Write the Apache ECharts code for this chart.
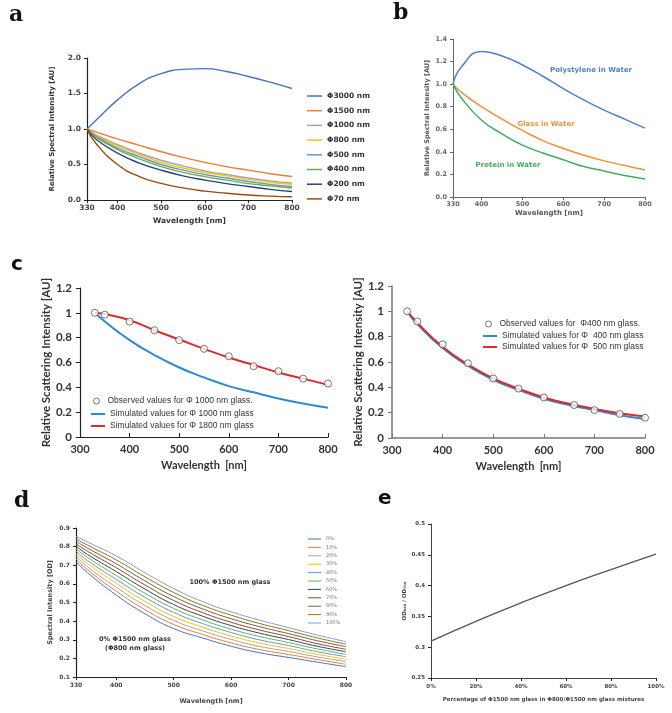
<!DOCTYPE html>
<html>
<head>
<meta charset="utf-8">
<script src="https://cdn.jsdelivr.net/npm/echarts@6/dist/echarts.min.js"></script>
<style>
  html, body { margin: 0; padding: 0; background: #fff; }
  #chart { width: 672px; height: 713px; }
</style>
</head>
<body>
<div id="chart"></div>
<script>
// panel a: relative spectral intensity by particle size
const waveA = [330, 350, 400, 450, 500, 550, 600, 650, 700, 750, 800];
const sizeNames = ['Φ3000 nm', 'Φ1500 nm', 'Φ1000 nm', 'Φ800 nm', 'Φ500 nm', 'Φ400 nm', 'Φ200 nm', 'Φ70 nm'];
const phi3000 = [1.0, 1.12, 1.41, 1.64, 1.78, 1.84, 1.85, 1.81, 1.74, 1.66, 1.57];
const phi1500 = [1.0, 0.96, 0.86, 0.77, 0.68, 0.60, 0.53, 0.47, 0.42, 0.37, 0.33];
const phi1000 = [1.0, 0.92, 0.78, 0.66, 0.56, 0.48, 0.41, 0.36, 0.31, 0.27, 0.24];
const phi800 = [1.0, 0.91, 0.76, 0.64, 0.53, 0.45, 0.39, 0.34, 0.29, 0.25, 0.22];
const phi500 = [1.0, 0.90, 0.73, 0.61, 0.50, 0.42, 0.36, 0.31, 0.26, 0.22, 0.19];
const phi400 = [1.0, 0.89, 0.71, 0.58, 0.47, 0.39, 0.33, 0.28, 0.23, 0.20, 0.17];
const phi200 = [1.0, 0.86, 0.66, 0.52, 0.42, 0.34, 0.28, 0.23, 0.19, 0.15, 0.12];
const phi70 = [1.0, 0.80, 0.50, 0.33, 0.235, 0.17, 0.125, 0.095, 0.07, 0.055, 0.045];
const sizeColors = ['#4472c4', '#ed7d31', '#a5a5a5', '#ffc000', '#5b9bd5', '#70ad47', '#264478', '#9e480e'];

// panel b: materials in water
const waveB = [330, 350, 400, 450, 500, 550, 600, 650, 700, 750, 800];
const polystylene = [1.0, 1.15, 1.29, 1.25, 1.17, 1.07, 0.96, 0.86, 0.77, 0.69, 0.61];
const glassWater = [1.0, 0.93, 0.80, 0.69, 0.59, 0.50, 0.43, 0.37, 0.32, 0.28, 0.24];
const proteinWater = [1.0, 0.88, 0.68, 0.56, 0.46, 0.39, 0.33, 0.27, 0.23, 0.19, 0.16];

// panel c: observed vs simulated scattering
const waveC = [330, 350, 400, 450, 500, 550, 600, 650, 700, 750, 800];
const obsWaveL = [330, 350, 400, 450, 500, 550, 600, 650, 700, 750, 800];
const obs1000 = [1.0, 0.985, 0.93, 0.86, 0.78, 0.71, 0.65, 0.57, 0.53, 0.47, 0.43];
const sim1000 = [1.0, 0.93, 0.78, 0.66, 0.56, 0.48, 0.41, 0.36, 0.31, 0.27, 0.235];
const sim1800 = [1.0, 0.99, 0.94, 0.86, 0.785, 0.71, 0.64, 0.58, 0.52, 0.47, 0.42];
const obsWaveR = [330, 350, 400, 450, 500, 550, 600, 660, 700, 750, 800];
const obs400 = [1.0, 0.92, 0.74, 0.59, 0.47, 0.39, 0.32, 0.26, 0.22, 0.19, 0.16];
const sim400 = [1.0, 0.90, 0.71, 0.57, 0.46, 0.38, 0.31, 0.26, 0.22, 0.18, 0.15];
const sim500 = [1.0, 0.91, 0.72, 0.58, 0.47, 0.39, 0.32, 0.27, 0.23, 0.195, 0.17];

// panel d: mixtures of 800/1500 nm glass
const waveD = [330, 350, 400, 450, 500, 550, 600, 650, 700, 750, 800];
const mixNames = ['0%', '10%', '20%', '30%', '40%', '50%', '60%', '70%', '80%', '90%', '100%'];
const mix0 = [0.720, 0.660, 0.540, 0.440, 0.360, 0.310, 0.265, 0.230, 0.205, 0.180, 0.155];
const mix10 = [0.735, 0.676, 0.561, 0.462, 0.382, 0.329, 0.283, 0.247, 0.221, 0.194, 0.168];
const mix20 = [0.749, 0.692, 0.582, 0.484, 0.404, 0.348, 0.302, 0.264, 0.237, 0.208, 0.182];
const mix30 = [0.762, 0.709, 0.603, 0.506, 0.425, 0.368, 0.320, 0.282, 0.253, 0.222, 0.195];
const mix40 = [0.776, 0.725, 0.624, 0.528, 0.447, 0.387, 0.339, 0.299, 0.269, 0.236, 0.209];
const mix50 = [0.789, 0.742, 0.645, 0.550, 0.468, 0.407, 0.357, 0.317, 0.285, 0.251, 0.222];
const mix60 = [0.803, 0.758, 0.666, 0.572, 0.489, 0.427, 0.376, 0.335, 0.301, 0.265, 0.236];
const mix70 = [0.815, 0.775, 0.687, 0.594, 0.511, 0.446, 0.394, 0.352, 0.317, 0.279, 0.249];
const mix80 = [0.829, 0.792, 0.708, 0.616, 0.532, 0.466, 0.413, 0.370, 0.333, 0.295, 0.263];
const mix90 = [0.842, 0.808, 0.729, 0.638, 0.554, 0.485, 0.432, 0.387, 0.349, 0.310, 0.276];
const mix100 = [0.855, 0.825, 0.750, 0.660, 0.575, 0.505, 0.450, 0.405, 0.365, 0.325, 0.290];
const mixColors = ['#4472c4', '#ed7d31', '#a5a5a5', '#ffc000', '#5b9bd5', '#70ad47',
  '#264478', '#9e480e', '#636363', '#997300', '#7f9fd0'];

// panel e: OD ratio vs percentage
const pctE = [0, 20, 40, 60, 80, 100];
const ratioE = [0.31, 0.342, 0.372, 0.40, 0.426, 0.451];

const waveTicks = [330, 400, 500, 600, 700, 800];

const pairs = (xs, ys) => xs.map((x, i) => [x, ys[i]]);

const chart = echarts.init(document.getElementById('chart'));

const axisBase = (gi, opt) => Object.assign({
  gridIndex: gi,
  type: 'value',
  splitLine: { show: false },
  axisLine: { show: true, lineStyle: { color: '#222', width: 1.2 } },
  axisTick: { show: true, length: 3, lineStyle: { color: '#222' } },
  nameLocation: 'middle'
}, opt);

const small = (size, extra) => Object.assign({
  fontFamily: 'DejaVu Sans', fontSize: size, fontWeight: 'bold', color: '#444'
}, extra || {});

const cFont = (size) => ({ fontFamily: 'Lato', fontSize: size, fontWeight: 'bold', color: '#333' });
const cLegendText = { fontFamily: 'Liberation Sans', fontSize: 8.5, color: '#333', lineHeight: 10 };

const aSeries = [phi3000, phi1500, phi1000, phi800, phi500, phi400, phi200, phi70].map((ys, i) => ({
  name: sizeNames[i], type: 'line', xAxisIndex: 0, yAxisIndex: 0,
  smooth: true, symbol: 'none', data: pairs(waveA, ys),
  lineStyle: { color: sizeColors[i], width: 1.4 }, itemStyle: { color: sizeColors[i] }
}));

const bColors = ['#4f7fd0', '#f0913a', '#3fae5e'];
const bSeries = [polystylene, glassWater, proteinWater].map((ys, i) => ({
  name: ['Polystylene in Water', 'Glass in Water', 'Protein in Water'][i],
  type: 'line', xAxisIndex: 1, yAxisIndex: 1, smooth: true, symbol: 'none',
  data: pairs(waveB, ys), lineStyle: { color: bColors[i], width: 1.5 }
}));

const obsStyle = { color: '#fff', borderColor: '#555', borderWidth: 1 };
const cSeries = [
  { name: 'Simulated values for Φ 1000 nm glass', type: 'line', xAxisIndex: 2, yAxisIndex: 2, smooth: true,
    symbol: 'none', data: pairs(waveC, sim1000), lineStyle: { color: '#2f8ad4', width: 2 }, itemStyle: { color: '#2f8ad4' } },
  { name: 'Simulated values for Φ 1800 nm glass', type: 'line', xAxisIndex: 2, yAxisIndex: 2, smooth: true,
    symbol: 'none', data: pairs(waveC, sim1800), lineStyle: { color: '#dd2a2a', width: 2 }, itemStyle: { color: '#dd2a2a' } },
  { name: 'Observed values for Φ 1000 nm glass.', type: 'scatter', xAxisIndex: 2, yAxisIndex: 2,
    symbol: 'circle', symbolSize: 7, data: pairs(obsWaveL, obs1000), itemStyle: obsStyle, z: 5 },
  { name: 'Simulated values for Φ  400 nm glass', type: 'line', xAxisIndex: 3, yAxisIndex: 3, smooth: true,
    symbol: 'none', data: pairs(waveC, sim400), lineStyle: { color: '#2f8ad4', width: 2 }, itemStyle: { color: '#2f8ad4' } },
  { name: 'Simulated values for Φ  500 nm glass', type: 'line', xAxisIndex: 3, yAxisIndex: 3, smooth: true,
    symbol: 'none', data: pairs(waveC, sim500), lineStyle: { color: '#dd2a2a', width: 2 }, itemStyle: { color: '#dd2a2a' } },
  { name: 'Observed values for  Φ400 nm glass.', type: 'scatter', xAxisIndex: 3, yAxisIndex: 3,
    symbol: 'circle', symbolSize: 7, data: pairs(obsWaveR, obs400), itemStyle: obsStyle, z: 5 }
];

const dSeries = [mix0, mix10, mix20, mix30, mix40, mix50, mix60, mix70, mix80, mix90, mix100].map((ys, i) => ({
  name: mixNames[i], type: 'line', xAxisIndex: 4, yAxisIndex: 4, smooth: true, symbol: 'none',
  data: pairs(waveD, ys), lineStyle: { color: mixColors[i], width: 1 }, itemStyle: { color: mixColors[i] }
}));

const eSeries = [{
  name: 'ratio', type: 'line', xAxisIndex: 5, yAxisIndex: 5, smooth: true, symbol: 'none',
  data: pairs(pctE, ratioE), lineStyle: { color: '#555', width: 1.3 }
}];

const options = {
  animation: false,
  backgroundColor: '#fff',
  grid: [
    { left: 87, top: 58, width: 205, height: 142 },
    { left: 453, top: 39, width: 192, height: 158 },
    { left: 80, top: 288, width: 248, height: 149 },
    { left: 392, top: 286, width: 253, height: 152 },
    { left: 76, top: 528, width: 270, height: 149 },
    { left: 431, top: 524, width: 225, height: 154 }
  ],
  xAxis: [
    axisBase(0, { min: 330, max: 800, name: 'Wavelength [nm]', nameGap: 17,
      nameTextStyle: small(7.5, { color: '#333' }),
      axisTick: { show: true, length: 3, customValues: waveTicks, lineStyle: { color: '#222' } },
      axisLabel: Object.assign(small(7.5), { margin: 4, customValues: waveTicks }) }),
    axisBase(1, { min: 330, max: 800, name: 'Wavelength [nm]', nameGap: 13,
      nameTextStyle: small(7, { color: '#555' }),
      axisLine: { show: true, lineStyle: { color: '#666', width: 1 } },
      axisTick: { show: true, length: 3, customValues: waveTicks, lineStyle: { color: '#666' } },
      axisLabel: Object.assign(small(6.5, { color: '#666' }), { margin: 4, customValues: waveTicks }) }),
    axisBase(2, { min: 300, max: 800, interval: 100, name: 'Wavelength  [nm]', nameGap: 23,
      nameTextStyle: cFont(11), axisTick: { show: true, length: 4, inside: true, lineStyle: { color: '#222' } },
      axisLabel: Object.assign(cFont(11), { margin: 7 }) }),
    axisBase(3, { min: 300, max: 800, interval: 100, name: 'Wavelength  [nm]', nameGap: 23,
      nameTextStyle: cFont(11), axisLine: { show: true, lineStyle: { color: '#777', width: 1.5 } },
      axisTick: { show: true, length: 4, inside: true, lineStyle: { color: '#777' } },
      axisLabel: Object.assign(cFont(11), { margin: 7 }) }),
    axisBase(4, { min: 330, max: 800, name: 'Wavelength [nm]', nameGap: 21,
      nameTextStyle: small(6.5, { color: '#444' }),
      axisTick: { show: true, length: 3, customValues: waveTicks, lineStyle: { color: '#222' } },
      axisLabel: Object.assign(small(6), { margin: 5, customValues: waveTicks }) }),
    axisBase(5, { min: 0, max: 100, interval: 20, name: 'Percentage of Φ1500 nm glass in Φ800/Φ1500 nm glass mixtures',
      nameGap: 19, nameTextStyle: small(5.5, { color: '#444' }),
      axisLine: { show: true, lineStyle: { color: '#444', width: 1 } },
      axisLabel: Object.assign(small(5.5), { margin: 6, formatter: v => v + '%' }) })
  ],
  yAxis: [
    axisBase(0, { min: 0, max: 2, interval: 0.5, name: 'Relative Spectral Intensity [AU]', nameGap: 31,
      nameTextStyle: small(7, { color: '#333' }),
      axisLabel: Object.assign(small(7.5), { margin: 6, formatter: v => v.toFixed(1) }) }),
    axisBase(1, { min: 0, max: 1.4, interval: 0.2, name: 'Relative Spectral Intensity [AU]', nameGap: 22,
      nameTextStyle: small(6.5, { color: '#555' }),
      axisLine: { show: true, lineStyle: { color: '#666', width: 1 } },
      axisTick: { show: true, length: 3, lineStyle: { color: '#666' } },
      axisLabel: Object.assign(small(6.5, { color: '#666' }), { margin: 6, formatter: v => v.toFixed(1) }) }),
    axisBase(2, { min: 0, max: 1.2, interval: 0.2, name: 'Relative Scattering Intensity [AU]', nameGap: 24,
      nameTextStyle: cFont(11.5), axisTick: { show: true, length: 4, lineStyle: { color: '#222' } },
      axisLabel: Object.assign(cFont(11.5), { margin: 8 }) }),
    axisBase(3, { min: 0, max: 1.2, interval: 0.2, name: 'Relative Scattering Intensity [AU]', nameGap: 24,
      nameTextStyle: cFont(11.5), axisLine: { show: true, lineStyle: { color: '#777', width: 1.5 } },
      axisTick: { show: true, length: 4, lineStyle: { color: '#777' } },
      axisLabel: Object.assign(cFont(11.5), { margin: 8 }) }),
    axisBase(4, { min: 0.1, max: 0.9, interval: 0.1, name: 'Spectral Intensity [OD]', nameGap: 22,
      nameTextStyle: small(6.5, { color: '#444' }),
      axisLabel: Object.assign(small(6), { margin: 6, formatter: v => v.toFixed(1) }) }),
    axisBase(5, { min: 0.25, max: 0.5, interval: 0.05, name: 'OD₈₀₀ / OD₃₃₀', nameGap: 18,
      nameTextStyle: small(5.5, { color: '#444' }),
      axisLine: { show: true, lineStyle: { color: '#444', width: 1 } },
      axisLabel: Object.assign(small(5.5), { margin: 6, formatter: v => String(+v.toFixed(2)) }) })
  ],
  legend: [
    { data: sizeNames, orient: 'vertical', left: 302, top: 86, icon: 'rect', itemWidth: 15, itemHeight: 1.5,
      itemGap: 4.7, textStyle: small(7.5, { color: '#333', lineHeight: 10 }) },
    { data: ['Observed values for Φ 1000 nm glass.'], orient: 'vertical', left: 88, top: 391,
      icon: 'circle', itemWidth: 12, itemHeight: 6, itemStyle: obsStyle, textStyle: cLegendText },
    { data: ['Simulated values for Φ 1000 nm glass', 'Simulated values for Φ 1800 nm glass'],
      orient: 'vertical', left: 86, top: 404, icon: 'rect', itemWidth: 14, itemHeight: 2, itemGap: 2,
      textStyle: cLegendText },
    { data: ['Observed values for  Φ400 nm glass.'], orient: 'vertical', left: 480, top: 314,
      icon: 'circle', itemWidth: 12, itemHeight: 6, itemStyle: obsStyle, textStyle: cLegendText },
    { data: ['Simulated values for Φ  400 nm glass', 'Simulated values for Φ  500 nm glass'],
      orient: 'vertical', left: 478, top: 326, icon: 'rect', itemWidth: 14, itemHeight: 2, itemGap: 1,
      textStyle: cLegendText },
    { data: mixNames, orient: 'vertical', left: 303, top: 531, icon: 'rect', itemWidth: 13, itemHeight: 1,
      itemGap: 2.4, textStyle: small(5, { color: '#777', fontWeight: 'normal', lineHeight: 6 }) }
  ],
  graphic: [
    { type: 'text', left: 9, top: 4, style: { text: 'a', font: 'bold 22px "DejaVu Serif"', fill: '#111' } },
    { type: 'text', left: 393, top: 2, style: { text: 'b', font: 'bold 22px "DejaVu Serif"', fill: '#111' } },
    { type: 'text', left: 11, top: 255, style: { text: 'c', font: 'bold 20px "DejaVu Sans"', fill: '#111' } },
    { type: 'text', left: 14, top: 490, style: { text: 'd', font: 'bold 22px "DejaVu Serif"', fill: '#111' } },
    { type: 'text', left: 378, top: 489, style: { text: 'e', font: 'bold 20px "DejaVu Sans"', fill: '#111' } },
    { type: 'text', x: 591, y: 70, style: { text: 'Polystylene in Water', font: 'bold 7px "DejaVu Sans"', fill: '#4f7fd0', align: 'center', verticalAlign: 'middle' } },
    { type: 'text', x: 546, y: 124, style: { text: 'Glass in Water', font: 'bold 7px "DejaVu Sans"', fill: '#f0913a', align: 'center', verticalAlign: 'middle' } },
    { type: 'text', x: 508, y: 165, style: { text: 'Protein in Water', font: 'bold 7px "DejaVu Sans"', fill: '#3fae5e', align: 'center', verticalAlign: 'middle' } },
    { type: 'text', x: 230, y: 582, style: { text: '100% Φ1500 nm glass', font: 'bold 6.5px "DejaVu Sans"', fill: '#333', align: 'center', verticalAlign: 'middle' } },
    { type: 'text', x: 135, y: 639, style: { text: '0% Φ1500 nm glass', font: 'bold 6.5px "DejaVu Sans"', fill: '#333', align: 'center', verticalAlign: 'middle' } },
    { type: 'text', x: 135, y: 648, style: { text: '(Φ800 nm glass)', font: 'bold 6.5px "DejaVu Sans"', fill: '#333', align: 'center', verticalAlign: 'middle' } }
  ],
  series: [].concat(aSeries, bSeries, cSeries, dSeries, eSeries)
};

chart.setOption(options);
</script>
</body>
</html>
